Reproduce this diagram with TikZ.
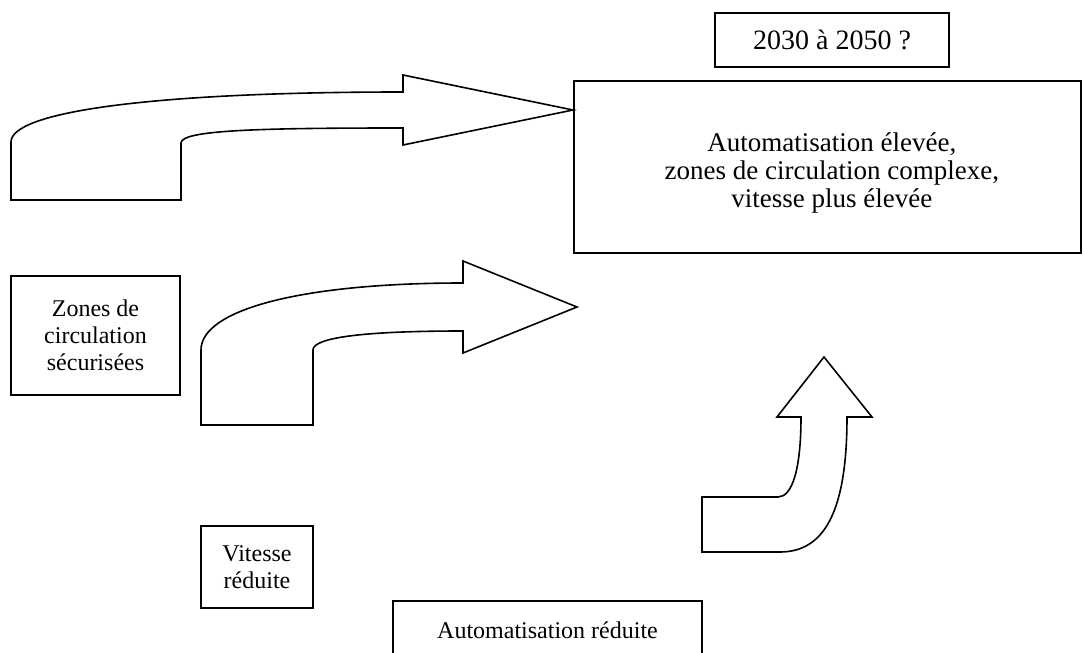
\documentclass[tikz,border=0pt]{standalone}
\usepackage{fontspec}
\setmainfont{Liberation Serif}
\tikzset{
	boite/.style={draw,line width=0.9pt,align=center,inner sep=0pt,font=\fontsize{12}{13.6}\selectfont},
	fleche/.style={draw,fill=white,line width=0.8pt,line join=miter}
}
\begin{document}
\begin{tikzpicture}[x=0.5pt,y=-0.5pt]
		\clip (0,0) rectangle (1084,653);
		\fill[white] (0,0) rectangle (1084,653);
		% fleches
		\draw[fleche] (11,200) -- (181,200) -- (181,143) .. controls (181,130) and (260,128) .. (403,128) -- (403,145) -- (573,110) -- (403,75) -- (403,92) .. controls (150,92) and (11,112) .. (11,142) -- cycle;
		\draw[fleche] (201,425) -- (313,425) -- (313,350) .. controls (313,338) and (360,331) .. (463,331) -- (463,353) -- (577,307) -- (463,261) -- (463,283) .. controls (300,283) and (201,310) .. (201,350) -- cycle;
		\draw[fleche] (702,497) -- (778,497) .. controls (792,497) and (801,470) .. (801,417) -- (777,417) -- (824,357) -- (872,417) -- (847,417) .. controls (847,510) and (825,552) .. (780,552) -- (702,552) -- cycle;
		% boites
		\node[boite,minimum width=117pt,minimum height=27pt,font=\fontsize{14}{16}\selectfont] (date) at (832,40) {2030 à 2050 ?};
		\node[boite,minimum width=253.5pt,minimum height=86pt] (cible) at (827.5,167) {};
		\node[align=center,inner sep=0pt,font=\fontsize{13.5}{13.9}\selectfont,xshift=2.2pt,yshift=-3pt] (ciblet) at (cible.center) {Automatisation élevée,\\ zones de circulation complexe,\\ vitesse plus élevée};
		\node[boite,minimum width=84.5pt,minimum height=59.5pt] (zones) at (95.5,335.5) {Zones de\\ circulation\\ sécurisées};
		\node[boite,minimum width=56pt,minimum height=41pt] (vitesse) at (257,567) {Vitesse\\ réduite};
		\node[boite,minimum width=154.5pt,minimum height=29.5pt] (autom) at (547.5,630.5) {Automatisation réduite};
	\end{tikzpicture}
\end{document}
